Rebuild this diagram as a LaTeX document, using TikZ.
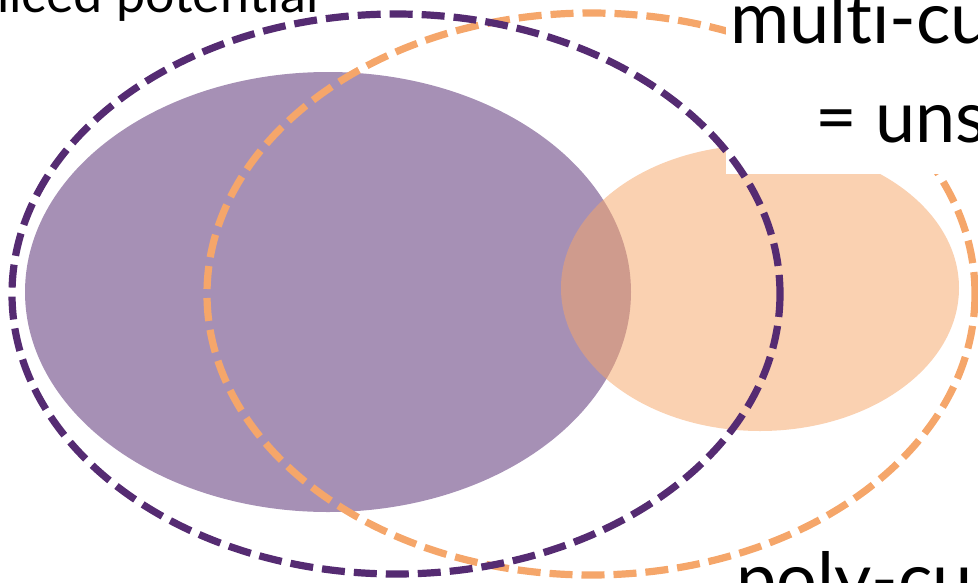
\documentclass[tikz,border=0pt]{standalone}
\usepackage{fontspec}
\setmainfont[Ligatures={NoCommon,NoRare}]{Lato}
\definecolor{purpleC}{RGB}{85,43,114}
\definecolor{orangeC}{RGB}{245,166,106}
\tikzset{
  blob/.style={fill opacity=0.52},
  ring/.style={line width=7.2pt, dash pattern=on 23pt off 9pt},
  bigtext/.style={inner sep=0pt, anchor=base west, font=\fontsize{72}{86}\selectfont},
  smalltext/.style={inner sep=0pt, anchor=base west, font=\fontsize{52}{62}\selectfont},
}
\begin{document}
\begin{tikzpicture}[x=1pt,y=-1pt]
\useasboundingbox (0,0) rectangle (978,582);
% filled sets
\fill[purpleC, blob] (328,292) ellipse [x radius=303, y radius=220];
\fill[orangeC, blob] (760,288) ellipse [x radius=199, y radius=143];
% orange dashed ring
\draw[orangeC, ring] (591,294) ellipse [x radius=384, y radius=281];
% white label background
\fill[white] (726,-30) rectangle (1010,174);
\node[bigtext] (multi) at (730,43) {multi-cu};
\node[bigtext] (uns) at (815,142) {= uns};
% purple dashed ring
\draw[purpleC, ring] (396,294) ellipse [x radius=384, y radius=280];
% other labels
\node[smalltext] (slice) at (-3,12) {liced potential};
\node[bigtext] (poly) at (736,604) {poly-cu};
\end{tikzpicture}
\end{document}
